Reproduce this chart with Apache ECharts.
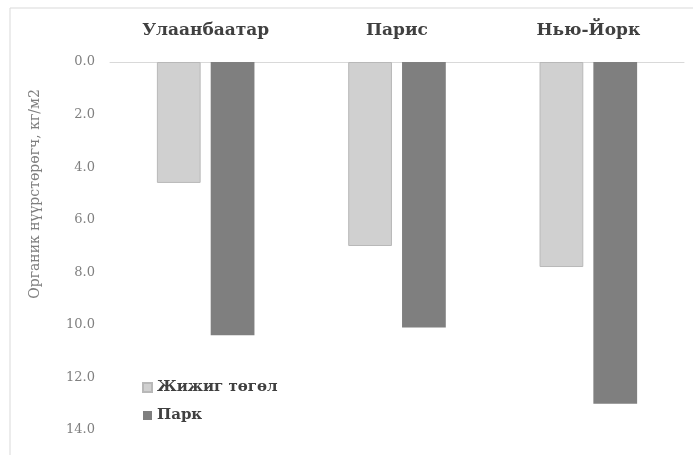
<!DOCTYPE html>
<html>
<head>
<meta charset="utf-8">
<script src="https://cdn.jsdelivr.net/npm/echarts@6/dist/echarts.min.js"></script>
<style>
  html, body { margin: 0; padding: 0; background: #fff; }
  #chart { width: 693px; height: 455px; }
</style>
</head>
<body>
<div id="chart"></div>
<script>
// categories (cities)
const cities = ['Улаанбаатар', 'Парис', 'Нью-Йорк'];
// organic carbon, kg/m2
const smallGrove = [4.6, 7.0, 7.8];
const park = [10.4, 10.1, 13.0];
// y axis ticks
const yTicks = [0, 2, 4, 6, 8, 10, 12, 14];
const yTitle = 'Органик нүүрстөрөгч, кг/м2';

const serif = '"DejaVu Serif", "Liberation Serif", serif';

const myChart = echarts.init(document.getElementById('chart'));
const option = {
    animation: false,
    backgroundColor: '#fff',
    graphic: [
        {
            // outer chart frame
            type: 'rect',
            shape: { x: 10, y: 8, width: 720, height: 480 },
            style: { fill: 'none', stroke: '#d9d9d9', lineWidth: 1 },
            silent: true
        },
        {
            // y axis title, sits a bit above the axis middle
            type: 'text',
            x: 35,
            y: 194,
            rotation: Math.PI / 2,
            style: {
                text: yTitle,
                font: '14px ' + serif,
                fill: '#7f7f7f',
                align: 'center',
                verticalAlign: 'middle'
            }
        }
    ],
    grid: { left: 110, right: 9, top: 62, bottom: 25 },
    legend: {
        orient: 'vertical',
        left: 137,
        top: 375,
        itemWidth: 9,
        itemHeight: 9,
        itemGap: 13,
        icon: 'rect',
        textStyle: { fontFamily: serif, fontWeight: 'bold', fontSize: 15, color: '#404040' },
        data: ['Жижиг төгөл', 'Парк']
    },
    xAxis: {
        type: 'category',
        position: 'top',
        data: cities,
        axisLine: { lineStyle: { color: '#d9d9d9', width: 1 } },
        axisTick: { show: false },
        axisLabel: {
            margin: 23,
            fontFamily: serif,
            fontWeight: 'bold',
            fontSize: 17,
            color: '#404040'
        }
    },
    yAxis: {
        type: 'value',
        inverse: true,
        min: yTicks[0],
        max: yTicks[yTicks.length - 1],
        interval: 2,
        axisLine: { show: false },
        axisTick: { show: false },
        splitLine: { show: false },
        axisLabel: {
            margin: 15,
            fontFamily: serif,
            fontSize: 13,
            color: '#808080',
            formatter: v => v.toFixed(1)
        }
    },
    series: [
        {
            name: 'Жижиг төгөл',
            type: 'bar',
            data: smallGrove,
            barGap: '23%',
            barCategoryGap: '49%',
            itemStyle: { color: '#d0d0d0', borderColor: '#b8b8b8', borderWidth: 1 }
        },
        {
            name: 'Парк',
            type: 'bar',
            data: park,
            itemStyle: { color: '#7f7f7f' }
        }
    ]
};
option && myChart.setOption(option);
</script>
</body>
</html>
